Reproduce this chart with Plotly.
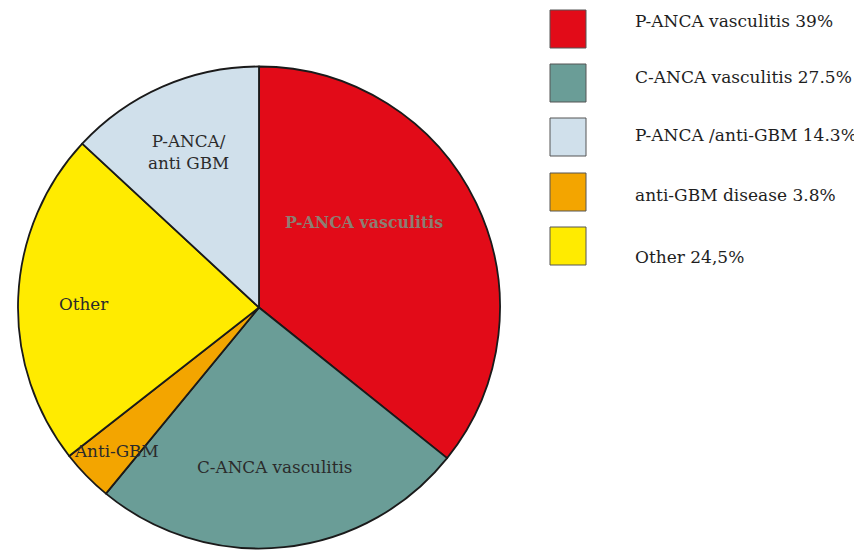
import plotly.graph_objects as go

# Data (pie order, clockwise from 12 o'clock)
slice_labels = ["P-ANCA vasculitis", "C-ANCA vasculitis", "Anti-GBM", "Other", "P-ANCA/<br>anti GBM"]
slice_values = [39, 27.5, 3.8, 24.5, 14.3]
slice_colors = ["#E20B18", "#6A9D97", "#F3A500", "#FFEB00", "#D0E0EB"]

# Legend (as printed)
legend_labels = ["P-ANCA vasculitis 39%", "C-ANCA vasculitis 27.5%", "P-ANCA /anti-GBM 14.3%",
                 "anti-GBM disease 3.8%", "Other 24,5%"]
legend_colors = ["#E20B18", "#6A9D97", "#D0E0EB", "#F3A500", "#FFEB00"]

W, H = 862, 550
OFF = 8  # page body margin
FONT = "DejaVu Serif"

def px(x):
    return (x - OFF) / W

def py(y):
    return 1 - (y - OFF) / H

fig = go.Figure()
fig.add_trace(go.Pie(
    labels=slice_labels,
    values=slice_values,
    sort=False,
    direction="clockwise",
    rotation=0,
    marker=dict(colors=slice_colors, line=dict(color="#1a1a1a", width=1.8)),
    textinfo="none",
    hoverinfo="label+percent",
    showlegend=False,
    domain=dict(x=[px(18), px(500)], y=[py(549), py(66)]),
))

annotations = []
inner = [
    ("<b>P-ANCA vasculitis</b>", 364, 223, "#8C7E72", 15.8),
    ("C-ANCA vasculitis", 274, 467, "#2b2b2b", 16.8),
    ("Anti-GBM", 116, 451, "#2b2b2b", 16.8),
    ("Other", 84, 304, "#2b2b2b", 16.8),
    ("P-ANCA/<br>anti GBM", 188, 152, "#2b2b2b", 16.8),
]
for txt, x, y, c, s in inner:
    annotations.append(dict(text=txt, x=px(x), y=py(y), xref="paper", yref="paper",
                            showarrow=False, xanchor="center", yanchor="middle",
                            font=dict(family=FONT, size=s, color=c)))

shapes = []
box_y = [29, 83, 137, 192, 246]
text_y = [21, 77, 135, 195, 257]
for lab, col, cy, ty in zip(legend_labels, legend_colors, box_y, text_y):
    shapes.append(dict(type="rect", xref="paper", yref="paper",
                       x0=px(550), x1=px(586), y0=py(cy + 19), y1=py(cy - 19),
                       fillcolor=col, line=dict(color="#555555", width=1)))
    annotations.append(dict(text=lab, x=px(633), y=py(ty), xref="paper", yref="paper",
                            showarrow=False, xanchor="left", yanchor="middle",
                            font=dict(family=FONT, size=17, color="#1e1e1e")))

fig.update_layout(
    width=W, height=H,
    margin=dict(l=0, r=0, t=0, b=0),
    paper_bgcolor="white",
    plot_bgcolor="white",
    shapes=shapes,
    annotations=annotations,
)

fig.write_html("out.html")
